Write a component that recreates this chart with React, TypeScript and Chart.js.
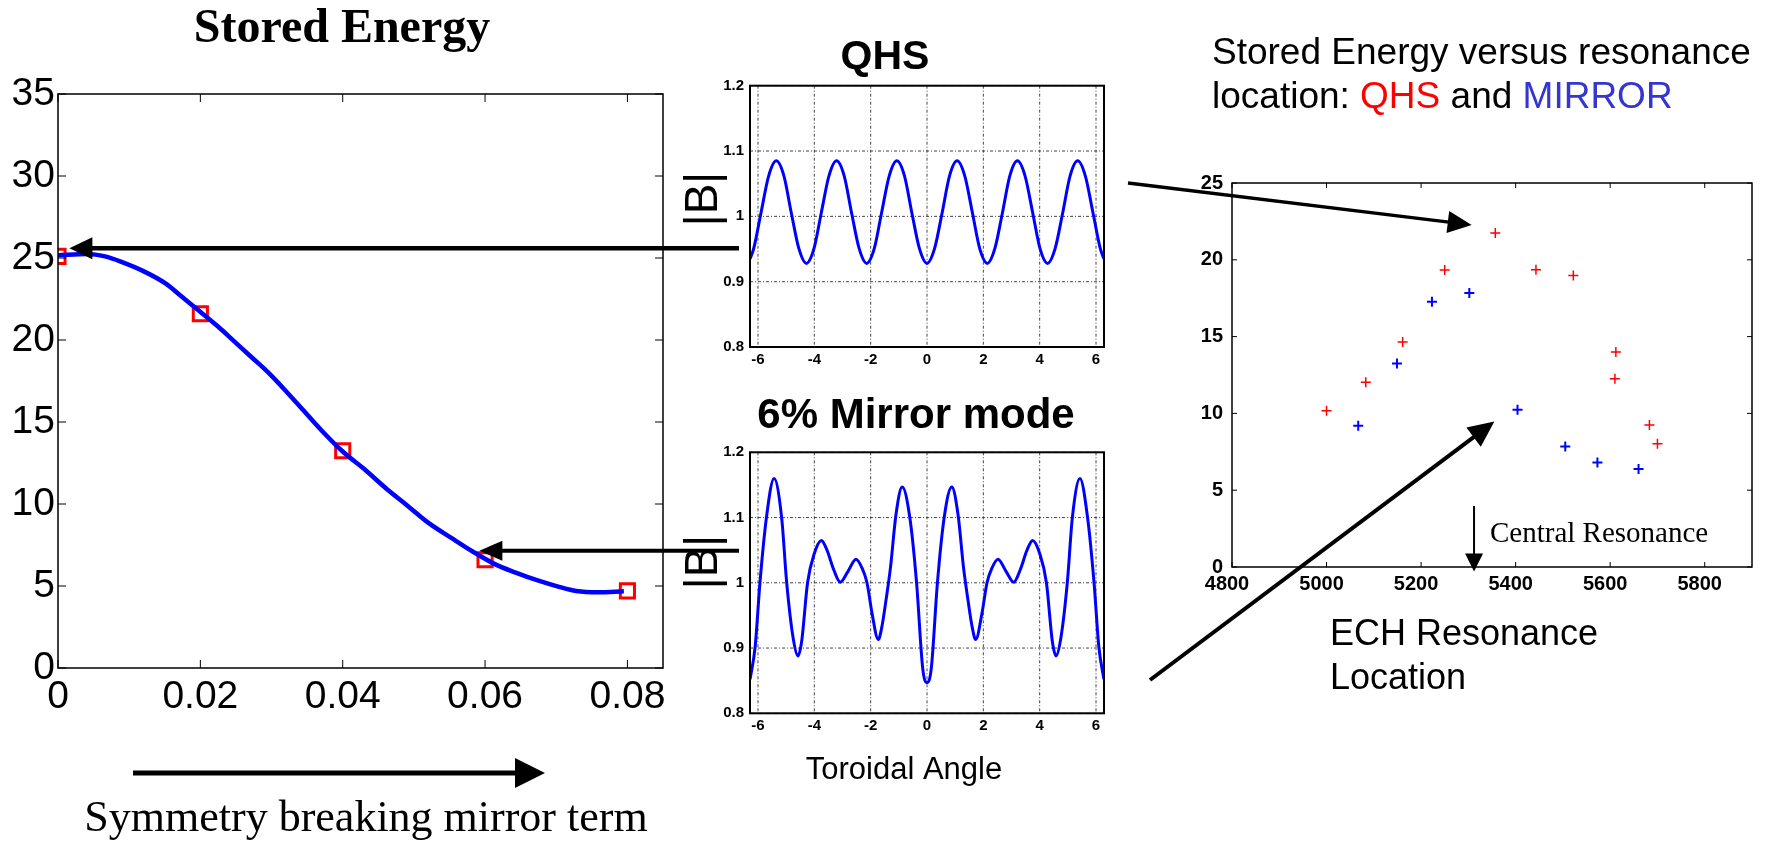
import React, { useEffect, useRef } from 'react';
import { Chart, registerables } from 'chart.js';
Chart.register(...registerables);

const PAGE_W = 1769;
const PAGE_H = 843;
const SANS = '"Liberation Sans", Arial, sans-serif';
const SERIF = '"Liberation Serif", "Times New Roman", serif';

// ---- Stored energy vs symmetry breaking mirror term ----
const mirrorTerm = [0, 0.02, 0.04, 0.06, 0.08];
const storedEnergy = [25.1, 21.6, 13.25, 6.6, 4.7];
const fitMirrorTerm = [0, 0.0041, 0.0066, 0.009, 0.012, 0.0151, 0.0175, 0.0199, 0.0224, 0.0248, 0.0272, 0.0297, 0.0321, 0.0345, 0.037, 0.04, 0.0431, 0.0461, 0.0491, 0.0522, 0.0552, 0.0582, 0.0613, 0.0643, 0.0674, 0.0704, 0.0728, 0.0759, 0.0795];
const fitStoredEnergy = [25.17, 25.25, 25.1, 24.75, 24.2, 23.45, 22.6, 21.75, 20.85, 19.9, 18.95, 17.95, 16.85, 15.7, 14.5, 13.2, 12.1, 10.95, 9.9, 8.8, 7.95, 7.12, 6.35, 5.82, 5.34, 4.95, 4.7, 4.62, 4.68];
const energyXTicks = [0, 0.02, 0.04, 0.06, 0.08];
const energyYTicks = [0, 5, 10, 15, 20, 25, 30, 35];

// ---- |B| vs toroidal angle ----
const qhsAngle = [-6.28, -6.15, -5.89, -5.62, -5.35, -5.08, -4.82, -4.55, -4.28, -4.01, -3.75, -3.48, -3.21, -2.94, -2.68, -2.41, -2.14, -1.87, -1.61, -1.34, -1.07, -0.8, -0.54, -0.27, 0, 0.27, 0.54, 0.8, 1.07, 1.34, 1.61, 1.87, 2.14, 2.41, 2.68, 2.94, 3.21, 3.48, 3.75, 4.01, 4.28, 4.55, 4.82, 5.08, 5.35, 5.62, 5.89, 6.15, 6.28];
const qhsB = [0.935, 0.951, 1.006, 1.062, 1.085, 1.062, 1.006, 0.951, 0.928, 0.951, 1.006, 1.062, 1.085, 1.062, 1.006, 0.951, 0.928, 0.951, 1.006, 1.062, 1.085, 1.062, 1.006, 0.951, 0.928, 0.951, 1.006, 1.062, 1.085, 1.062, 1.006, 0.951, 0.928, 0.951, 1.006, 1.062, 1.085, 1.062, 1.006, 0.951, 0.928, 0.951, 1.006, 1.062, 1.085, 1.062, 1.006, 0.951, 0.935];
const mirrorAngle = [-6.28, -6.1, -5.93, -5.7, -5.43, -5.16, -4.98, -4.75, -4.58, -4.45, -4.24, -4.0, -3.75, -3.55, -3.31, -3.08, -2.8, -2.52, -2.3, -2.13, -1.95, -1.73, -1.6, -1.45, -1.3, -1.1, -0.88, -0.61, -0.37, -0.15, 0, 0.15, 0.37, 0.61, 0.88, 1.1, 1.3, 1.45, 1.6, 1.73, 1.95, 2.13, 2.3, 2.52, 2.8, 3.08, 3.31, 3.55, 3.75, 4.0, 4.24, 4.45, 4.58, 4.75, 4.98, 5.16, 5.43, 5.7, 5.93, 6.1, 6.28];
const mirrorB = [0.852, 0.902, 1.0, 1.1, 1.16, 1.1, 1.0, 0.915, 0.888, 0.91, 1.0, 1.045, 1.065, 1.05, 1.02, 1.001, 1.018, 1.036, 1.022, 1.0, 0.953, 0.913, 0.933, 0.975, 1.022, 1.105, 1.147, 1.1, 1.0, 0.868, 0.847, 0.868, 1.0, 1.1, 1.147, 1.105, 1.022, 0.975, 0.933, 0.913, 0.953, 1.0, 1.022, 1.036, 1.018, 1.001, 1.02, 1.05, 1.065, 1.045, 1.0, 0.91, 0.888, 0.915, 1.0, 1.1, 1.16, 1.1, 1.0, 0.902, 0.852];
const angleTicks = [-6, -4, -2, 0, 2, 4, 6];
const bTicks = [0.8, 0.9, 1, 1.1, 1.2];

// ---- Stored energy vs ECH resonance location ----
const qhsResonance = [5000, 5083, 5161, 5250, 5357, 5443, 5522, 5612, 5610, 5683, 5700];
const qhsEnergy = [10.17, 12.02, 14.65, 19.33, 21.75, 19.36, 18.97, 13.99, 12.26, 9.25, 8.03];
const mirrorResonance = [5067, 5149, 5223, 5302, 5404, 5505, 5573, 5660];
const mirrorEnergy = [9.19, 13.25, 17.27, 17.84, 10.23, 7.85, 6.8, 6.38];
const resonanceTicks = [4800, 5000, 5200, 5400, 5600, 5800];
const resEnergyTicks = [0, 5, 10, 15, 20, 25];
const centralResonance = 5312;

const pts = (xs: number[], ys: number[]) => xs.map((x, i) => ({ x, y: ys[i] }));

function arrow(ctx: CanvasRenderingContext2D, x1: number, y1: number, x2: number, y2: number, lw: number, hl: number, hw: number) {
  const a = Math.atan2(y2 - y1, x2 - x1);
  const c = Math.cos(a), s = Math.sin(a);
  const bx = x2 - hl * c, by = y2 - hl * s;
  ctx.save();
  ctx.strokeStyle = '#000';
  ctx.fillStyle = '#000';
  ctx.lineWidth = lw;
  ctx.beginPath();
  ctx.moveTo(x1, y1);
  ctx.lineTo(bx + c, by + s);
  ctx.stroke();
  ctx.beginPath();
  ctx.moveTo(x2, y2);
  ctx.lineTo(bx - hw * s, by + hw * c);
  ctx.lineTo(bx + hw * s, by - hw * c);
  ctx.closePath();
  ctx.fill();
  ctx.restore();
}

function axis(o: { pos: string; min: number; max: number; ticks: number[]; font: any; padding: number; size: number; fmt: (v: number) => string; labelOffset?: number }) {
  return {
    type: 'linear',
    position: o.pos,
    min: o.min,
    max: o.max,
    afterBuildTicks: (s: any) => { s.ticks = o.ticks.map((v) => ({ value: v })); },
    afterFit: (s: any) => { if (o.pos === 'left') s.width = o.size; else s.height = o.size; },
    grid: { display: false, drawTicks: false },
    border: { display: false },
    ticks: {
      color: '#000', font: o.font, padding: o.padding, autoSkip: false,
      maxRotation: 0, minRotation: 0, labelOffset: o.labelOffset || 0,
      callback: (v: any) => o.fmt(Number(v)),
    },
  };
}

function framePlugin(o: { lw: number; tick: number; grid?: boolean }) {
  return {
    id: 'frame',
    beforeDatasetsDraw(chart: any) {
      if (!o.grid) return;
      const { ctx, chartArea: a, scales } = chart;
      ctx.save();
      ctx.strokeStyle = '#444';
      ctx.lineWidth = 1;
      ctx.setLineDash([3, 2, 1, 2]);
      scales.x.ticks.forEach((t: any) => {
        const p = scales.x.getPixelForValue(t.value);
        ctx.beginPath(); ctx.moveTo(p, a.top); ctx.lineTo(p, a.bottom); ctx.stroke();
      });
      scales.y.ticks.forEach((t: any) => {
        const p = scales.y.getPixelForValue(t.value);
        ctx.beginPath(); ctx.moveTo(a.left, p); ctx.lineTo(a.right, p); ctx.stroke();
      });
      ctx.restore();
    },
    afterDatasetsDraw(chart: any) {
      const { ctx, chartArea: a, scales } = chart;
      ctx.save();
      ctx.strokeStyle = '#000';
      ctx.lineWidth = o.lw;
      ctx.strokeRect(a.left, a.top, a.right - a.left, a.bottom - a.top);
      if (o.tick > 0) {
        ctx.lineWidth = 1;
        ctx.beginPath();
        scales.x.ticks.forEach((t: any) => {
          const p = scales.x.getPixelForValue(t.value);
          ctx.moveTo(p, a.bottom); ctx.lineTo(p, a.bottom - o.tick);
          ctx.moveTo(p, a.top); ctx.lineTo(p, a.top + o.tick);
        });
        scales.y.ticks.forEach((t: any) => {
          const p = scales.y.getPixelForValue(t.value);
          ctx.moveTo(a.left, p); ctx.lineTo(a.left + o.tick, p);
          ctx.moveTo(a.right, p); ctx.lineTo(a.right - o.tick, p);
        });
        ctx.stroke();
      }
      ctx.restore();
    },
  };
}

function baseOptions(pad: { left: number; top: number; right: number; bottom: number }, scales: any) {
  return {
    responsive: false,
    maintainAspectRatio: false,
    animation: false,
    devicePixelRatio: 1,
    events: [],
    layout: { padding: pad },
    plugins: { legend: { display: false }, tooltip: { enabled: false }, title: { display: false } },
    scales,
  };
}

function energyConfig(): any {
  const font = { family: SANS, size: 39, lineHeight: 1 };
  return {
    type: 'line',
    data: {
      datasets: [
        { data: pts(fitMirrorTerm, fitStoredEnergy), borderColor: '#0000ff', borderWidth: 4.5, pointRadius: 0, cubicInterpolationMode: 'monotone', fill: false },
        { data: pts(mirrorTerm, storedEnergy), showLine: false, pointStyle: 'rect', pointRadius: 10, pointBorderWidth: 3, pointBorderColor: '#ff0000', pointBackgroundColor: 'rgba(0,0,0,0)', borderColor: '#ff0000', borderWidth: 3 },
      ],
    },
    options: baseOptions({ left: 0, top: 94, right: PAGE_W - 663, bottom: PAGE_H - 668 - 60 }, {
      x: axis({ pos: 'bottom', min: 0, max: 0.085, ticks: energyXTicks, font, padding: 9.5, size: 60, fmt: (v) => (v === 0 ? '0' : v.toFixed(2)) }),
      y: axis({ pos: 'left', min: 0, max: 35, ticks: energyYTicks, font, padding: 3, size: 58, fmt: (v) => String(v) }),
    }),
    plugins: [
      framePlugin({ lw: 1.5, tick: 8 }),
      {
        id: 'energyNotes',
        afterDraw(chart: any) {
          const { ctx, scales: { x, y } } = chart;
          ctx.save();
          ctx.fillStyle = '#000';
          ctx.textAlign = 'center';
          ctx.textBaseline = 'alphabetic';
          ctx.font = `bold 48px ${SERIF}`;
          ctx.fillText('Stored Energy', 342, 42);
          ctx.font = `44px ${SERIF}`;
          ctx.fillText('Symmetry breaking mirror term', 366, 831);
          ctx.restore();
          arrow(ctx, 133, 773, 545, 773, 5, 30, 15);
          const y1 = y.getPixelForValue(25.6);
          arrow(ctx, 739, y1, x.getPixelForValue(0.0016), y1, 4.5, 23, 11);
          const y2 = y.getPixelForValue(7.15);
          arrow(ctx, 739, y2, x.getPixelForValue(0.0592), y2, 4, 23, 10);
        },
      },
    ],
  };
}

function fieldConfig(angle: number[], b: number[], top: number, bottom: number, xPad: number, notes: (ctx: CanvasRenderingContext2D) => void): any {
  const font = { family: SANS, size: 15, weight: 'bold', lineHeight: 1 };
  return {
    type: 'line',
    data: {
      datasets: [
        { data: pts(angle, b), borderColor: '#0000ff', borderWidth: 3, pointRadius: 0, cubicInterpolationMode: 'monotone', fill: false },
      ],
    },
    options: baseOptions({ left: 750 - 60, top, right: PAGE_W - 1104, bottom: PAGE_H - bottom - 30 }, {
      x: axis({ pos: 'bottom', min: -6.2832, max: 6.2832, ticks: angleTicks, font, padding: xPad, size: 30, fmt: (v) => String(v) }),
      y: axis({ pos: 'left', min: 0.8, max: 1.2, ticks: bTicks, font, padding: 6, size: 60, fmt: (v) => String(Math.round(v * 10) / 10) }),
    }),
    plugins: [
      framePlugin({ lw: 2, tick: 0, grid: true }),
      { id: 'fieldNotes', afterDraw(chart: any) { notes(chart.ctx); } },
    ],
  };
}

function drawB(ctx: CanvasRenderingContext2D, cx: number, cy: number) {
  ctx.save();
  ctx.translate(cx, cy);
  ctx.rotate(-Math.PI / 2);
  ctx.fillStyle = '#000';
  ctx.font = `46px ${SANS}`;
  ctx.textAlign = 'center';
  ctx.textBaseline = 'middle';
  ctx.fillText('|B|', 0, 0);
  ctx.restore();
}

function resonanceConfig(): any {
  const font = { family: SANS, size: 20, weight: 'bold', lineHeight: 1 };
  return {
    type: 'line',
    data: {
      datasets: [
        { data: pts(qhsResonance, qhsEnergy), showLine: false, pointStyle: 'cross', pointRadius: 5, pointBorderWidth: 1.5, pointBorderColor: '#ff0000', borderColor: '#ff0000' },
        { data: pts(mirrorResonance, mirrorEnergy), showLine: false, pointStyle: 'cross', pointRadius: 5, pointBorderWidth: 2, pointBorderColor: '#0000ff', borderColor: '#0000ff' },
      ],
    },
    options: baseOptions({ left: 1232 - 60, top: 183, right: PAGE_W - 1752, bottom: PAGE_H - 567 - 40 }, {
      x: axis({ pos: 'bottom', min: 4800, max: 5900, ticks: resonanceTicks, font, padding: 7, size: 40, fmt: (v) => String(v), labelOffset: -5 }),
      y: axis({ pos: 'left', min: 0, max: 25, ticks: resEnergyTicks, font, padding: 9, size: 60, fmt: (v) => String(v) }),
    }),
    plugins: [
      framePlugin({ lw: 1.5, tick: 5 }),
      {
        id: 'resNotes',
        afterDraw(chart: any) {
          const { ctx, scales: { x, y } } = chart;
          ctx.save();
          ctx.textAlign = 'left';
          ctx.textBaseline = 'alphabetic';
          ctx.fillStyle = '#000';
          ctx.font = `37px ${SANS}`;
          ctx.fillText('Stored Energy versus resonance', 1212, 64);
          let cx = 1212;
          const parts: [string, string][] = [['location: ', '#000'], ['QHS', '#ff0000'], [' and ', '#000'], ['MIRROR', '#3535d0']];
          parts.forEach(([t, c]) => { ctx.fillStyle = c; ctx.fillText(t, cx, 108); cx += ctx.measureText(t).width; });
          ctx.fillStyle = '#000';
          ctx.font = `36px ${SANS}`;
          ctx.fillText('ECH Resonance', 1330, 645);
          ctx.fillText('Location', 1330, 689);
          ctx.font = `29px ${SERIF}`;
          ctx.fillText('Central Resonance', 1490, 542);
          ctx.restore();
          const px = x.getPixelForValue(centralResonance);
          arrow(ctx, px, y.getPixelForValue(3.97), px, y.getPixelForValue(-0.3), 2, 18, 9);
          arrow(ctx, 1128, 183, x.getPixelForValue(5307), y.getPixelForValue(22.27), 3.3, 24, 11);
          arrow(ctx, 1150, 680, x.getPixelForValue(5355), y.getPixelForValue(9.47), 4, 26, 12);
        },
      },
    ],
  };
}

export default function App() {
  const r1 = useRef<HTMLCanvasElement>(null);
  const r2 = useRef<HTMLCanvasElement>(null);
  const r3 = useRef<HTMLCanvasElement>(null);
  const r4 = useRef<HTMLCanvasElement>(null);

  useEffect(() => {
    const charts = [
      new Chart(r1.current as HTMLCanvasElement, energyConfig()),
      new Chart(r2.current as HTMLCanvasElement, fieldConfig(qhsAngle, qhsB, 85.7, 347, 5.5, (ctx) => {
        ctx.save();
        ctx.fillStyle = '#000';
        ctx.textAlign = 'center';
        ctx.textBaseline = 'alphabetic';
        ctx.font = `bold 41px ${SANS}`;
        ctx.fillText('QHS', 885, 69);
        ctx.restore();
        drawB(ctx, 704, 199);
      })),
      new Chart(r3.current as HTMLCanvasElement, fieldConfig(mirrorAngle, mirrorB, 452.3, 713.3, 5, (ctx) => {
        ctx.save();
        ctx.fillStyle = '#000';
        ctx.textAlign = 'center';
        ctx.textBaseline = 'alphabetic';
        ctx.font = `bold 42px ${SANS}`;
        ctx.fillText('6% Mirror mode', 916, 428);
        ctx.font = `31px ${SANS}`;
        ctx.fillText('Toroidal Angle', 904, 779);
        ctx.restore();
        drawB(ctx, 704, 562);
      })),
      new Chart(r4.current as HTMLCanvasElement, resonanceConfig()),
    ];
    return () => charts.forEach((c) => c.destroy());
  }, []);

  const cs: React.CSSProperties = { position: 'absolute', left: 0, top: 0, width: PAGE_W, height: PAGE_H };
  return (
    <div style={{ position: 'absolute', left: 0, top: 0, width: PAGE_W, height: PAGE_H, background: '#fff', overflow: 'hidden' }}>
      <canvas ref={r1} width={PAGE_W} height={PAGE_H} style={cs} />
      <canvas ref={r2} width={PAGE_W} height={PAGE_H} style={cs} />
      <canvas ref={r3} width={PAGE_W} height={PAGE_H} style={cs} />
      <canvas ref={r4} width={PAGE_W} height={PAGE_H} style={cs} />
    </div>
  );
}
